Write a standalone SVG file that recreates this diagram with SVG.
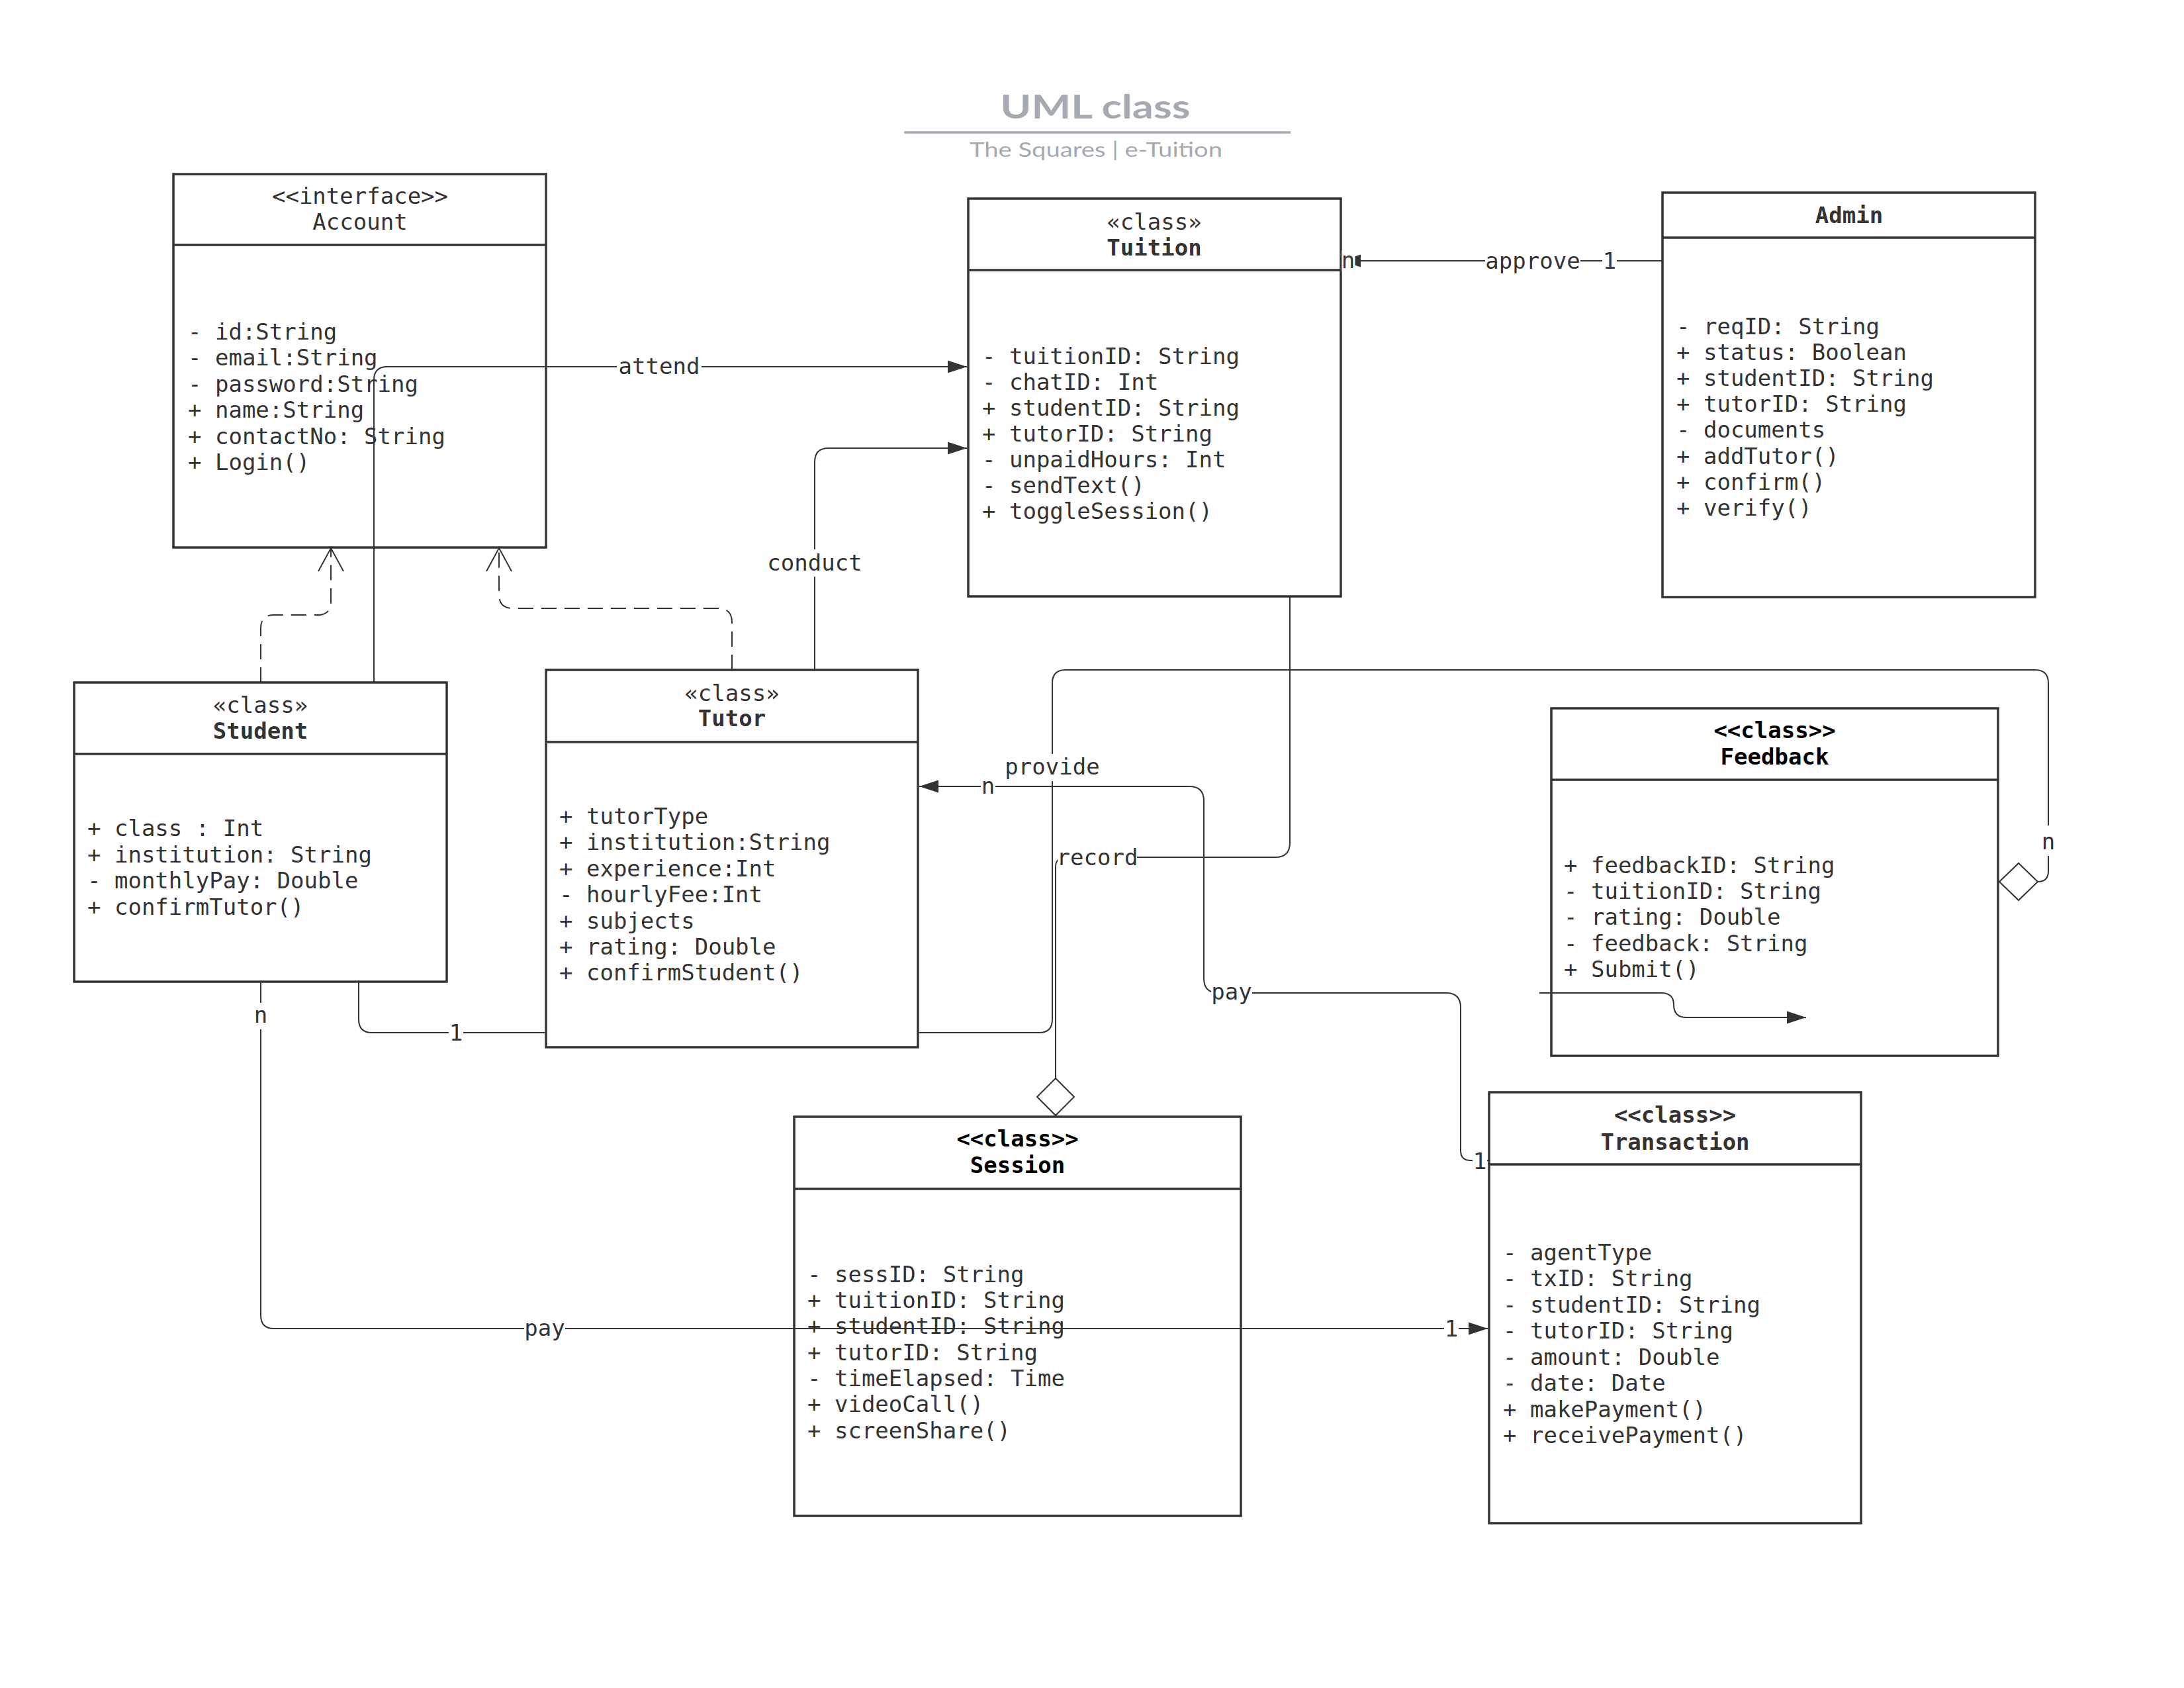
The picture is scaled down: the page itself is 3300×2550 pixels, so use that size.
<svg xmlns="http://www.w3.org/2000/svg" width="3300" height="2550" viewBox="0 0 3300 2550">
<style>
.bg{fill:#fff}
.box{fill:#fff;stroke:#333;stroke-width:3.5}
.dv{stroke:#333;stroke-width:3.5}
.t{font-family:'DejaVu Sans Mono','Liberation Mono',monospace;font-size:34px;fill:#333}
.b{font-weight:bold}
.k{fill:#000}
.c{text-anchor:middle}
.ln{fill:none;stroke:#333;stroke-width:2}
.dash{stroke-dasharray:23 12}
.dia{fill:#fff;stroke:#333;stroke-width:2}
.lb{fill:#fff}
.ttl{font-family:Lato,'Open Sans',sans-serif;fill:#a5aab2;text-anchor:middle}
</style>
<defs>
<marker id="arr" markerUnits="userSpaceOnUse" viewBox="-30 -11 31 22" refX="0" refY="0" markerWidth="31" markerHeight="22" orient="auto">
<path d="M-29 -9.5 L0 0 L-29 9.5 Z" fill="#333"/>
</marker>
<marker id="open" markerUnits="userSpaceOnUse" viewBox="-38 -21 41 42" refX="0" refY="0" markerWidth="41" markerHeight="42" orient="auto">
<path d="M-35 -19 L0 0 L-35 19" fill="none" stroke="#333" stroke-width="2" stroke-dasharray="none"/>
</marker>
</defs>
<rect class="bg" x="0" y="0" width="3300" height="2550"/>

<g id="title">
<text class="ttl" x="1655" y="179" font-size="50" font-weight="bold" textLength="287" lengthAdjust="spacingAndGlyphs">UML class</text>
<line x1="1366" y1="200" x2="1950" y2="200" stroke="#a5aab2" stroke-width="3.5"/>
<text class="ttl" x="1656" y="237" font-size="31" textLength="382" lengthAdjust="spacingAndGlyphs">The Squares | e-Tuition</text>
</g>

<g id="account">
<rect class="box" x="262" y="263" width="563" height="564"/>
<line class="dv" x1="262" y1="370" x2="825" y2="370"/>
<text class="t c" x="544" y="308">&lt;&lt;interface&gt;&gt;</text>
<text class="t c" x="544" y="347">Account</text>
<text class="t" x="284" y="513">- id:String</text>
<text class="t" x="284" y="552.4">- email:String</text>
<text class="t" x="284" y="591.8">- password:String</text>
<text class="t" x="284" y="631.2">+ name:String</text>
<text class="t" x="284" y="670.6">+ contactNo: String</text>
<text class="t" x="284" y="710">+ Login()</text>
</g>

<g id="tuition">
<rect class="box" x="1463" y="300" width="563" height="601"/>
<line class="dv" x1="1463" y1="408" x2="2026" y2="408"/>
<text class="t c" x="1744" y="346.6">«class»</text>
<text class="t c b" x="1744" y="385.6">Tuition</text>
<text class="t" x="1484" y="550">- tuitionID: String</text>
<text class="t" x="1484" y="589">- chatID: Int</text>
<text class="t" x="1484" y="628">+ studentID: String</text>
<text class="t" x="1484" y="667">+ tutorID: String</text>
<text class="t" x="1484" y="706">- unpaidHours: Int</text>
<text class="t" x="1484" y="745">- sendText()</text>
<text class="t" x="1484" y="784">+ toggleSession()</text>
</g>

<g id="admin">
<rect class="box" x="2512" y="291" width="563" height="611"/>
<line class="dv" x1="2512" y1="359" x2="3075" y2="359"/>
<text class="t c b" x="2794" y="337">Admin</text>
<text class="t" x="2533" y="504.5">- reqID: String</text>
<text class="t" x="2533" y="543.7">+ status: Boolean</text>
<text class="t" x="2533" y="582.9">+ studentID: String</text>
<text class="t" x="2533" y="622.1">+ tutorID: String</text>
<text class="t" x="2533" y="661.3">- documents</text>
<text class="t" x="2533" y="700.5">+ addTutor()</text>
<text class="t" x="2533" y="739.7">+ confirm()</text>
<text class="t" x="2533" y="778.9">+ verify()</text>
</g>

<g id="student">
<rect class="box" x="112" y="1031" width="563" height="452"/>
<line class="dv" x1="112" y1="1139" x2="675" y2="1139"/>
<text class="t c" x="393.5" y="1077">«class»</text>
<text class="t c b" x="393.5" y="1116">Student</text>
<text class="t" x="132" y="1263">+ class : Int</text>
<text class="t" x="132" y="1302.5">+ institution: String</text>
<text class="t" x="132" y="1342">- monthlyPay: Double</text>
<text class="t" x="132" y="1381.5">+ confirmTutor()</text>
</g>

<g id="tutor">
<rect class="box" x="825" y="1012" width="562" height="570"/>
<line class="dv" x1="825" y1="1121" x2="1387" y2="1121"/>
<text class="t c" x="1106" y="1058.7">«class»</text>
<text class="t c b" x="1106" y="1097">Tutor</text>
<text class="t" x="845" y="1245">+ tutorType</text>
<text class="t" x="845" y="1284.4">+ institution:String</text>
<text class="t" x="845" y="1323.8">+ experience:Int</text>
<text class="t" x="845" y="1363.2">- hourlyFee:Int</text>
<text class="t" x="845" y="1402.6">+ subjects</text>
<text class="t" x="845" y="1442">+ rating: Double</text>
<text class="t" x="845" y="1481.4">+ confirmStudent()</text>
</g>

<g id="feedback">
<rect class="box" x="2344" y="1070" width="675" height="525"/>
<line class="dv" x1="2344" y1="1178" x2="3019" y2="1178"/>
<text class="t c b k" x="2681.5" y="1115">&lt;&lt;class&gt;&gt;</text>
<text class="t c b k" x="2681.5" y="1155">Feedback</text>
<text class="t" x="2363" y="1318.6">+ feedbackID: String</text>
<text class="t" x="2363" y="1358">- tuitionID: String</text>
<text class="t" x="2363" y="1397.4">- rating: Double</text>
<text class="t" x="2363" y="1436.8">- feedback: String</text>
<text class="t" x="2363" y="1476.2">+ Submit()</text>
</g>

<g id="session">
<rect class="box" x="1200" y="1687" width="675" height="603"/>
<line class="dv" x1="1200" y1="1796" x2="1875" y2="1796"/>
<text class="t c b k" x="1537.5" y="1731.6">&lt;&lt;class&gt;&gt;</text>
<text class="t c b k" x="1537.5" y="1772.4">Session</text>
<text class="t" x="1220" y="1936.7">- sessID: String</text>
<text class="t" x="1220" y="1976">+ tuitionID: String</text>
<text class="t" x="1220" y="2015.3">+ studentID: String</text>
<text class="t" x="1220" y="2054.6">+ tutorID: String</text>
<text class="t" x="1220" y="2093.9">- timeElapsed: Time</text>
<text class="t" x="1220" y="2133.2">+ videoCall()</text>
<text class="t" x="1220" y="2172.5">+ screenShare()</text>
</g>

<g id="transaction">
<rect class="box" x="2250" y="1650" width="562" height="651"/>
<line class="dv" x1="2250" y1="1759" x2="2812" y2="1759"/>
<text class="t c b" x="2531" y="1696">&lt;&lt;class&gt;&gt;</text>
<text class="t c b" x="2531" y="1736.7">Transaction</text>
<text class="t" x="2271" y="1903.6">- agentType</text>
<text class="t" x="2271" y="1943.1">- txID: String</text>
<text class="t" x="2271" y="1982.6">- studentID: String</text>
<text class="t" x="2271" y="2022.1">- tutorID: String</text>
<text class="t" x="2271" y="2061.6">- amount: Double</text>
<text class="t" x="2271" y="2101.1">- date: Date</text>
<text class="t" x="2271" y="2140.6">+ makePayment()</text>
<text class="t" x="2271" y="2180.1">+ receivePayment()</text>
</g>

<g id="connectors">
<path class="ln dash" d="M394 1031 V949 Q394 929 414 929 H480 Q500 929 500 909 V828" marker-end="url(#open)"/>
<path class="ln dash" d="M1106 1012 V940 Q1106 919 1085 919 H775 Q754 919 754 898 V828" marker-end="url(#open)"/>
<path class="ln" d="M565 1031 V574 Q565 554 585 554 H1461" marker-end="url(#arr)"/>
<path class="ln" d="M1231 1012 V698 Q1231 677 1252 677 H1461" marker-end="url(#arr)"/>
<path class="ln" d="M2512 394 H2027" marker-end="url(#arr)"/>
<path class="ln" d="M1949 901 V1273 Q1949 1295 1927 1295 H1610 Q1595 1295 1595 1310 V1629"/>
<polygon class="dia" points="1595,1629 1623,1657 1595,1685 1567,1657"/>
<path class="ln" d="M1387 1560 H1570 Q1590 1560 1590 1540 V1032 Q1590 1012 1610 1012 H3075 Q3095 1012 3095 1032 V1316 Q3095 1332 3079 1332"/>
<polygon class="dia" points="3079,1332 3050,1304 3021,1332 3050,1360"/>
<path class="ln" d="M2250 1753 H2222 Q2207 1753 2207 1738 V1522 Q2207 1500 2185 1500 H1841 Q1819 1500 1819 1478 V1210 Q1819 1188 1797 1188 H1389" marker-end="url(#arr)"/>
<path class="ln" d="M394 1483 V1987 Q394 2007 414 2007 H2248" marker-end="url(#arr)"/>
<path class="ln" d="M542 1483 V1540 Q542 1560 562 1560 H825"/>
<path class="ln" d="M2326 1500 H2510 Q2529 1500 2529 1518 Q2529 1537 2548 1537 H2729" marker-end="url(#arr)"/>

<rect class="lb" x="932" y="538" width="128" height="30"/>
<text class="t c" x="996" y="565">attend</text>
<rect class="lb" x="1158" y="830" width="146" height="41"/>
<text class="t c" x="1231" y="862">conduct</text>
<rect class="lb" x="2244" y="380" width="144" height="28"/>
<text class="t c" x="2316" y="406">approve</text>
<rect class="lb" x="2421" y="380" width="22" height="28"/>
<text class="t c" x="2432" y="406">1</text>
<rect class="lb" x="2027.5" y="378" width="20" height="32"/>
<text class="t c" x="2037" y="405">n</text>
<rect class="lb" x="1598" y="1280" width="120" height="30"/>
<text class="t c" x="1658" y="1307">record</text>
<rect class="lb" x="1518" y="1139" width="144" height="41"/>
<text class="t c" x="1590" y="1170">provide</text>
<rect class="lb" x="3084" y="1247" width="22" height="46"/>
<text class="t c" x="3095" y="1283">n</text>
<rect class="lb" x="1830" y="1484" width="62" height="34"/>
<text class="t c" x="1861" y="1510">pay</text>
<rect class="lb" x="1482" y="1174" width="22" height="30"/>
<text class="t c" x="1493" y="1199">n</text>
<rect class="lb" x="678" y="1545" width="22" height="30"/>
<text class="t c" x="689" y="1572">1</text>
<rect class="lb" x="383" y="1515" width="22" height="40"/>
<text class="t c" x="394" y="1545">n</text>
<rect class="lb" x="792" y="1992" width="62" height="30"/>
<text class="t c" x="823" y="2018">pay</text>
<rect class="lb" x="2182" y="1992" width="22" height="30"/>
<text class="t c" x="2193" y="2019">1</text>
<rect class="lb" x="2225" y="1738" width="22" height="30"/>
<text class="t c" x="2236" y="1766">1</text>
</g>
</svg>
